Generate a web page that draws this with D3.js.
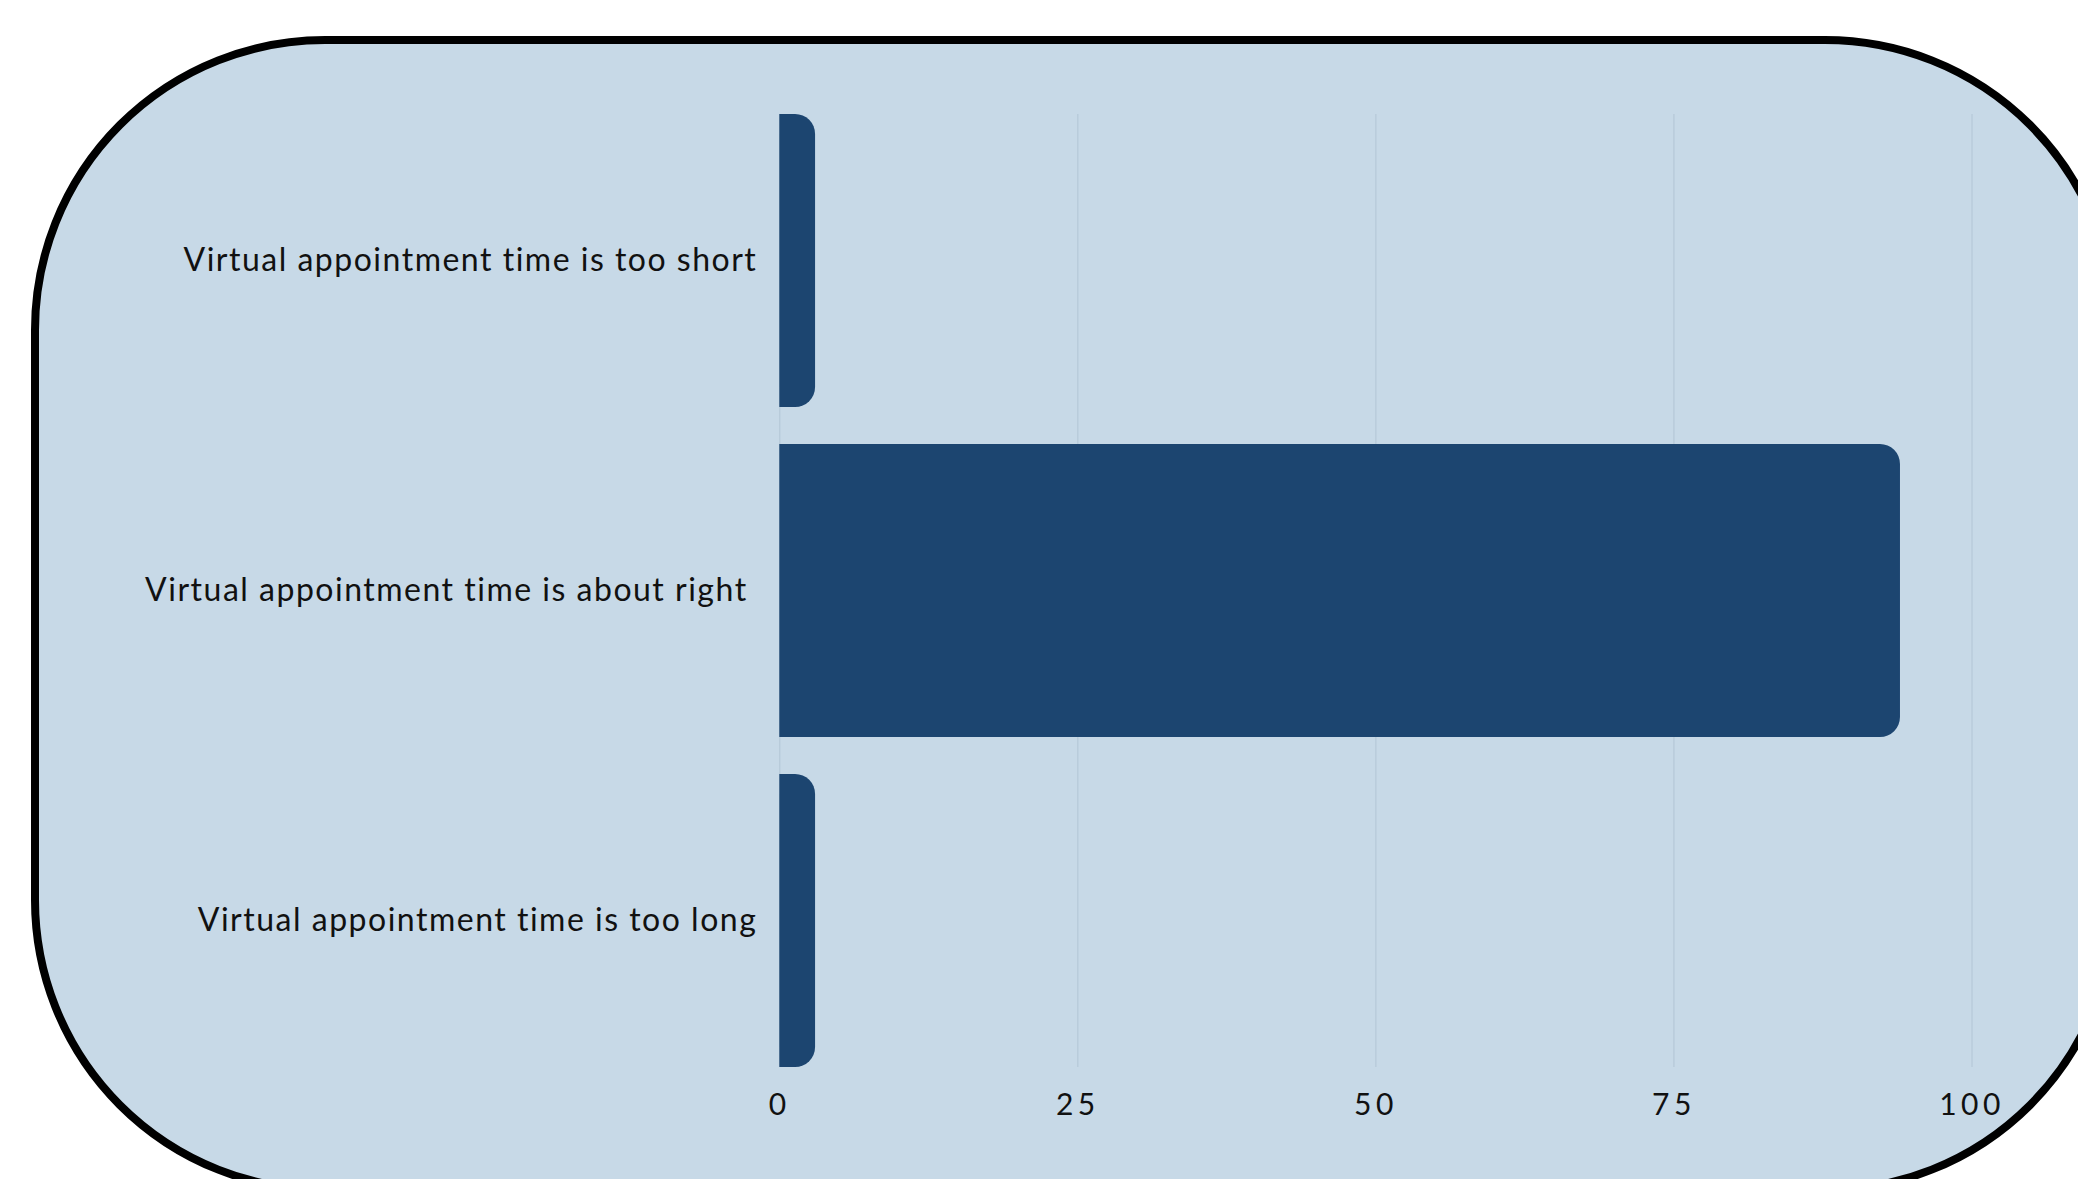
<!DOCTYPE html>
<html>
<head>
<meta charset="utf-8">
<script src="https://cdn.jsdelivr.net/npm/d3@7"></script>
<style>
  html, body { margin: 0; padding: 0; background: #ffffff; }
  svg { display: block; }
  text { font-family: Lato, "Noto Sans", sans-serif; fill: #111111; white-space: pre; font-variant-ligatures: none; font-feature-settings: "liga" 0, "clig" 0; }
</style>
</head>
<body>
<svg id="chart" width="2078" height="1179"></svg>
<script>
const categories = [
  "Virtual appointment time is too short",
  "Virtual appointment time is about right ",
  "Virtual appointment time is too long"
];
const values = [3, 94, 3];
const tickValues = [0, 25, 50, 75, 100];

const W = 2078, H = 1179;
const svg = d3.select("#chart");

// panel background
svg.append("rect")
  .attr("x", 35).attr("y", 40)
  .attr("width", 2080).attr("height", 1150)
  .attr("rx", 290).attr("ry", 290)
  .attr("fill", "#c7d9e7")
  .attr("stroke", "#000000")
  .attr("stroke-width", 8);

const x = d3.scaleLinear().domain([0, 100]).range([779.3, 1971.5]);
const y = d3.scaleBand().domain(categories).range([114, 1067]).paddingInner(0.112).paddingOuter(0);

// gridlines
const grid = svg.append("g")
  .attr("transform", `translate(0,${y.range()[1]})`)
  .call(d3.axisBottom(x).tickValues(tickValues).tickSize(-(y.range()[1] - y.range()[0])).tickFormat(""));
grid.select(".domain").remove();
grid.selectAll(".tick line").attr("stroke", "#b2c5d5").attr("stroke-width", 1);

// bars, right corners rounded
function barPath(x0, x1, y0, h, r) {
  const w = x1 - x0;
  const rr = Math.min(r, w, h / 2);
  return `M${x0},${y0}H${x1 - rr}A${rr},${rr} 0 0 1 ${x1},${y0 + rr}V${y0 + h - rr}A${rr},${rr} 0 0 1 ${x1 - rr},${y0 + h}H${x0}Z`;
}
svg.append("g").selectAll("path")
  .data(categories.map((c, i) => ({ c, v: values[i] })))
  .join("path")
  .attr("d", d => barPath(x(0), x(d.v), y(d.c), y.bandwidth(), 20))
  .attr("fill", "#1c4570");

// category labels
const yAxis = svg.append("g")
  .attr("transform", `translate(${x(0)},0)`)
  .call(d3.axisLeft(y).tickSize(0).tickPadding(22));
yAxis.select(".domain").remove();
yAxis.selectAll("text")
  .attr("font-size", 32)
  .attr("letter-spacing", "1.5px")
  .attr("font-family", "Lato, 'Noto Sans', sans-serif")
  .attr("fill", "#111111")
  .attr("xml:space", "preserve");

// x axis labels
const xAxis = svg.append("g")
  .attr("transform", `translate(0,1104)`)
  .call(d3.axisBottom(x).tickValues(tickValues).tickSize(0).tickPadding(0));
xAxis.select(".domain").remove();
xAxis.selectAll("text")
  .attr("dy", "0.35em")
  .attr("font-size", 30)
  .attr("letter-spacing", "4.5px")
  .attr("font-family", "Lato, 'Noto Sans', sans-serif")
  .attr("fill", "#111111");
</script>
</body>
</html>
